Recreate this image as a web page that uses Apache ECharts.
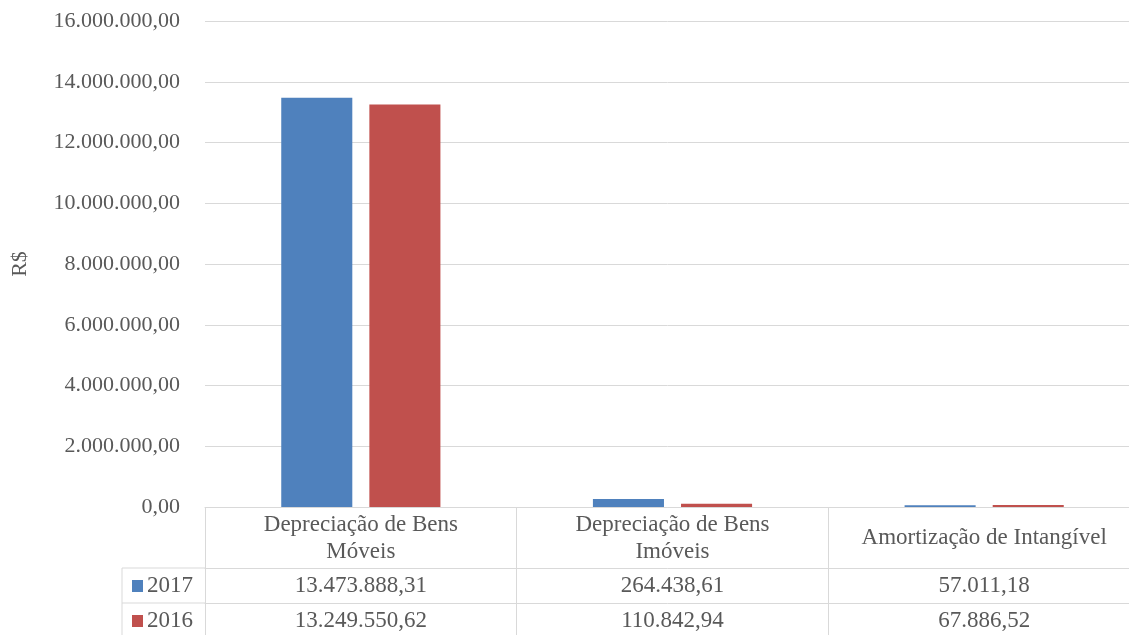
<!DOCTYPE html>
<html>
<head>
<meta charset="utf-8">
<script src="https://cdn.jsdelivr.net/npm/echarts@6/dist/echarts.min.js"></script>
<style>
  html, body { margin: 0; padding: 0; background: #fff; }
  #main { width: 1129px; height: 635px; }
</style>
</head>
<body>
<div id="main"></div>
<script>
const categories = ['Depreciação de Bens\nMóveis', 'Depreciação de Bens\nImóveis', 'Amortização de Intangível'];
const seriesNames = ['2017', '2016'];
const values2017 = [13473888.31, 264438.61, 57011.18];
const values2016 = [13249550.62, 110842.94, 67886.52];

const colors = ['#4F81BD', '#C0504D'];
const font = 'Liberation Serif';
const textColor = '#595959';
const lineColor = '#D9D9D9';

// 1234567.8 -> "1.234.567,80"
function fmt(v) {
  const parts = Math.abs(v).toFixed(2).split('.');
  const intPart = parts[0].replace(/\B(?=(\d{3})+(?!\d))/g, '.');
  return (v < 0 ? '-' : '') + intPart + ',' + parts[1];
}

const gridLeft = 205;
const gridTop = 21;
const plotH = 486;
const base = gridTop + plotH;

const chart = echarts.init(document.getElementById('main'));

const rowAxis = (offset, values) => ({
  type: 'category',
  gridIndex: 0,
  position: 'bottom',
  offset: offset,
  data: values.map(fmt),
  axisLine: { show: true, lineStyle: { color: lineColor, width: 1 } },
  axisTick: { show: true, interval: 0, length: 36, lineStyle: { color: lineColor } },
  axisLabel: { interval: 0, margin: 18, verticalAlign: 'middle', fontFamily: font, fontSize: 23, color: textColor },
  splitLine: { show: false }
});

const option = {
  animation: false,
  textStyle: { fontFamily: font },
  grid: { left: gridLeft, top: gridTop, width: 935, height: plotH, containLabel: false, outerBoundsMode: 'none' },
  xAxis: [{
    type: 'category',
    data: categories,
    axisLine: { show: true, lineStyle: { color: lineColor, width: 1 } },
    axisTick: { show: true, interval: 0, length: 61, lineStyle: { color: lineColor } },
    axisLabel: { interval: 0, margin: 31, verticalAlign: 'middle', lineHeight: 27, fontFamily: font, fontSize: 23, color: textColor },
    splitLine: { show: false }
  },
    rowAxis(61, values2017),
    rowAxis(96, values2016)
  ],
  yAxis: {
    type: 'value',
    min: 0,
    max: 16000000,
    interval: 2000000,
    name: 'R$',
    nameLocation: 'middle',
    nameGap: 174,
    nameTextStyle: { fontFamily: font, fontSize: 22, color: textColor },
    axisLine: { show: false },
    axisTick: { show: false },
    axisLabel: { margin: 25, fontFamily: font, fontSize: 22, color: textColor, formatter: fmt },
    splitLine: { lineStyle: { color: lineColor, width: 1 } }
  },
  series: [{
    name: seriesNames[0],
    type: 'bar',
    data: values2017,
    barWidth: '22.8%',
    barGap: '24%',
    itemStyle: { color: colors[0] }
  }, {
    name: seriesNames[1],
    type: 'bar',
    data: values2016,
    barWidth: '22.8%',
    itemStyle: { color: colors[1] }
  }],
  graphic: [
    // legend column of the data table
    { type: 'line', shape: { x1: 122, y1: base + 61, x2: gridLeft, y2: base + 61 }, style: { stroke: lineColor, lineWidth: 1 } },
    { type: 'line', shape: { x1: 122, y1: base + 96, x2: gridLeft, y2: base + 96 }, style: { stroke: lineColor, lineWidth: 1 } },
    { type: 'line', shape: { x1: 122, y1: base + 61, x2: 122, y2: base + 140 }, style: { stroke: lineColor, lineWidth: 1 } },
    { type: 'rect', shape: { x: 132, y: base + 73, width: 11, height: 12 }, style: { fill: colors[0] } },
    { type: 'rect', shape: { x: 132, y: base + 108, width: 11, height: 12 }, style: { fill: colors[1] } },
    { type: 'text', x: 147, y: base + 79, style: { text: seriesNames[0], font: '23px "Liberation Serif"', fill: textColor, verticalAlign: 'middle' } },
    { type: 'text', x: 147, y: base + 114, style: { text: seriesNames[1], font: '23px "Liberation Serif"', fill: textColor, verticalAlign: 'middle' } }
  ]
};

chart.setOption(option);
</script>
</body>
</html>
